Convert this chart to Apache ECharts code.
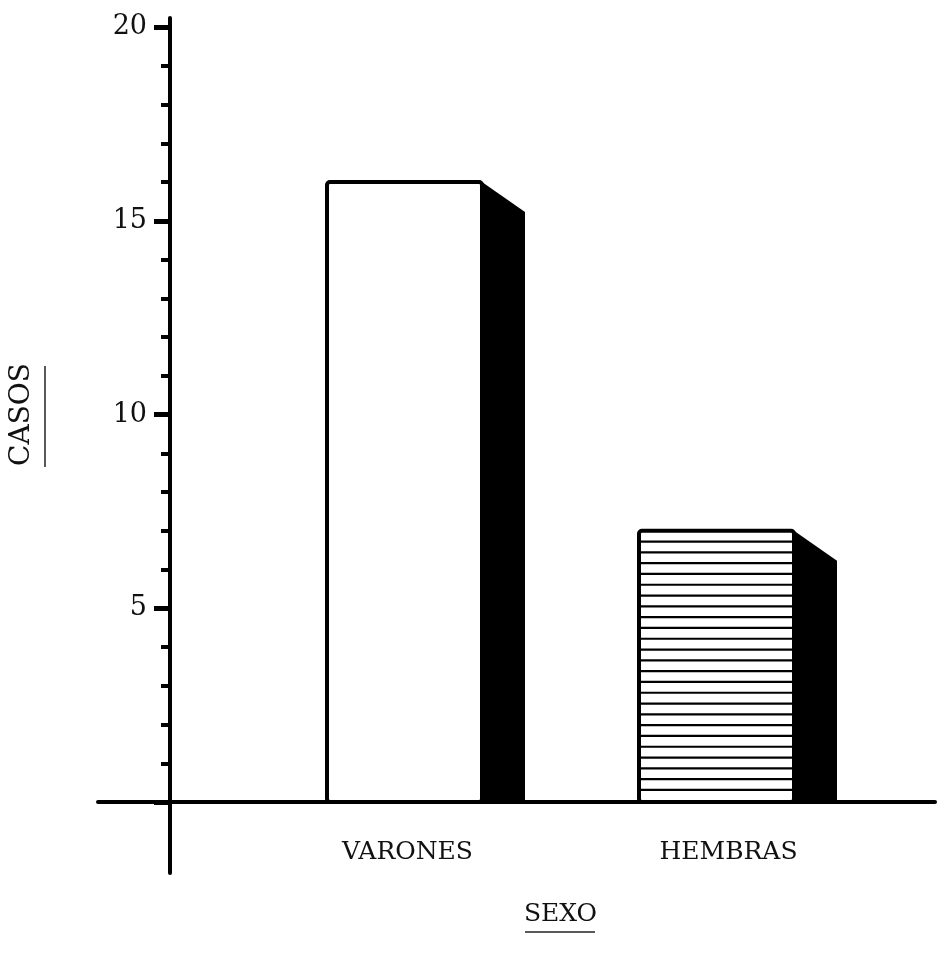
<!DOCTYPE html>
<html>
<head>
<meta charset="utf-8">
<script src="https://cdn.jsdelivr.net/npm/echarts@6/dist/echarts.min.js"></script>
<style>
html,body{margin:0;padding:0;background:#fff;}
#chart{width:945px;height:959px;}
</style>
</head>
<body>
<div id="chart"></div>
<script>
// ---- data ----
const categories = ['VARONES', 'HEMBRAS'];
const casos = [16, 7];
const yTicks = [0, 5, 10, 15, 20];
const xTitle = 'SEXO';
const yTitle = 'CASOS';

const FONT = 'DejaVu Serif';
const FS = 25;
const chart = echarts.init(document.getElementById('chart'));

const option = {
  backgroundColor: '#ffffff',
  animation: false,
  grid: { left: 248.5, right: 72.5, top: 27, bottom: 157 },
  xAxis: {
    type: 'category',
    data: categories,
    axisLine: { show: false },
    axisTick: { show: false },
    axisLabel: {
      margin: 38,
      color: '#111',
      fontFamily: FONT,
      fontSize: FS,
      formatter: function (v, i) { return i === 1 ? '{b|' + v + '}' : '{a|' + v + '}'; },
      rich: {
        a: { fontFamily: FONT, fontSize: FS, color: '#111', padding: [0, 0, 0, 6] },
        b: { fontFamily: FONT, fontSize: FS, color: '#111', padding: [0, 0, 0, 24] }
      }
    },
    name: xTitle,
    nameLocation: 'middle',
    nameGap: 100,
    nameTextStyle: { fontFamily: FONT, fontSize: FS, color: '#111' }
  },
  yAxis: {
    type: 'value',
    min: yTicks[0],
    max: yTicks[yTicks.length - 1],
    interval: 5,
    offset: 78.5,
    axisLine: { show: false },
    axisTick: { show: true, length: 16, lineStyle: { color: '#000', width: 5 } },
    minorTick: { show: true, splitNumber: 5, length: 9, lineStyle: { color: '#000', width: 4 } },
    splitLine: { show: false },
    axisLabel: {
      margin: 23,
      color: '#111',
      fontFamily: FONT,
      fontSize: 27,
      formatter: function (v) { return v === 0 ? '' : String(v); }
    },
    name: yTitle,
    nameLocation: 'middle',
    nameRotate: 90,
    nameGap: 134,
    nameTextStyle: { fontFamily: FONT, fontSize: 28, color: '#111' }
  },
  series: [{
    type: 'custom',
    data: casos.map(function (v, i) { return [i, v]; }),
    encode: { x: 0, y: 1 },
    renderItem: function (params, api) {
      const idx = api.value(0);
      const val = api.value(1);
      const top = api.coord([idx, val]);
      const base = api.coord([idx, 0]);
      const w = 155, depth = 43, drop = 30;
      const x0 = top[0] - w / 2, x1 = top[0] + w / 2;
      const children = [];
      children.push({
        type: 'polygon',
        shape: { points: [[x1, top[1]], [x1 + depth, top[1] + drop], [x1 + depth, base[1]], [x1, base[1]]] },
        style: { fill: '#000' }
      });
      children.push({
        type: 'rect',
        shape: { x: x0, y: top[1], width: w, height: base[1] - top[1], r: 3 },
        style: { fill: '#fff', stroke: '#000', lineWidth: 4 }
      });
      if (params.dataIndex === 1) {
        const step = 10.8;
        for (let y = top[1] + step; y < base[1] - 3; y += step) {
          children.push({
            type: 'line',
            shape: { x1: x0, y1: y, x2: x1, y2: y },
            style: { stroke: '#000', lineWidth: 2.2 }
          });
        }
      }
      return { type: 'group', children: children };
    }
  }]
};
chart.setOption(option);

// axis lines extended as in the drawing, and title underlines
const zero = chart.convertToPixel({ yAxisIndex: 0 }, 0);
const axisX = 170;
chart.setOption({
  graphic: [
    { type: 'line', shape: { x1: 98, y1: zero, x2: 935, y2: zero }, style: { stroke: '#000', lineWidth: 4, lineCap: 'round' }, z: 10 },
    { type: 'line', shape: { x1: axisX, y1: 18, x2: axisX, y2: 873 }, style: { stroke: '#000', lineWidth: 4, lineCap: 'round' }, z: 10 },
    { type: 'line', shape: { x1: 45, y1: 366, x2: 45, y2: 467 }, style: { stroke: '#222', lineWidth: 1.5 }, z: 10 },
    { type: 'line', shape: { x1: 525, y1: 932, x2: 595, y2: 932 }, style: { stroke: '#222', lineWidth: 1.5 }, z: 10 }
  ]
});
</script>
</body>
</html>
